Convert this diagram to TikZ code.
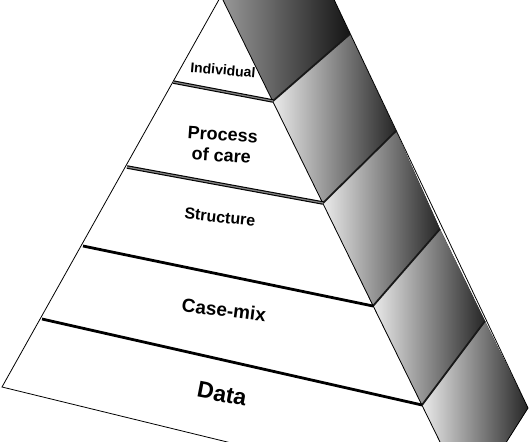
\documentclass[tikz,border=0pt]{standalone}
\usepackage{fontspec}
\setmainfont{Liberation Sans}
\usetikzlibrary{calc}
\tikzset{
  edge/.style={draw=black, line width=0.8pt},
  band/.style={draw=black, line width=2.8pt},
  bandtop/.style={draw=black, line width=1.1pt, double=black!50, double distance=1.3pt},
  sidecut/.style={draw=black!90, line width=1.8pt},
  side/.style={left color=black!8, right color=black!85},
  sidetop/.style={left color=black!40, right color=black!92},
  level/.style={text=black, align=center, inner sep=0pt}
}

\begin{document}
\begin{tikzpicture}[x=1pt,y=-1pt]
  \useasboundingbox (0,0) rectangle (531,442);
  \clip (0,0) rectangle (531,442);

  % front face corners
  \coordinate (apex) at (221,-4);
  \coordinate (l1) at (173,82);
  \coordinate (l2) at (127,167);
  \coordinate (l3) at (83,246);
  \coordinate (l4) at (42,319);
  \coordinate (l5) at (2,387);
  \coordinate (r1) at (273,101);
  \coordinate (r2) at (323,203);
  \coordinate (r3) at (373,306);
  \coordinate (r4) at (422,405);
  \coordinate (r5) at (469,501);
  % back edge of the side face
  \coordinate (k0) at (301,-70);
  \coordinate (k1) at (350,34);
  \coordinate (k2) at (396,131);
  \coordinate (k3) at (440,229);
  \coordinate (k4) at (485,321);
  \coordinate (k5) at (528,408);

  % side face
  \fill[sidetop] (apex) -- (k0) -- (k1) -- (r1) -- cycle;
  \foreach \a/\b in {1/2,2/3,3/4,4/5}
    \fill[side] (r\a) -- (k\a) -- (k\b) -- (r\b) -- cycle;
  \foreach \a in {1,...,4}
    \draw[sidecut] (r\a) -- (k\a);

  % outline
  \draw[edge] (apex) -- (l5) -- (r5) -- (k5) -- (k0);
  \draw[edge] (apex) -- (r5);

  % levels
  \draw[bandtop] (l1) -- (r1);
  \draw[bandtop] (l2) -- (r2);
  \draw[band] (l3) -- (r3);
  \draw[band] (l4) -- (r4);

  \node[level, font=\bfseries\fontsize{14}{16}\selectfont, rotate=-5] (individual) at (223,70) {Individual};
  \node[level, font=\bfseries\fontsize{18}{21}\selectfont, rotate=-4] (process) at (222,145) {Process\\of care};
  \node[level, font=\bfseries\fontsize{16}{18}\selectfont, rotate=-6] (structure) at (220,217) {Structure};
  \node[level, font=\bfseries\fontsize{19}{21}\selectfont, rotate=-7] (casemix) at (224,310) {Case-mix};
  \node[level, font=\bfseries\fontsize{23}{25}\selectfont, rotate=-11] (data) at (222,394) {Data};
\end{tikzpicture}
\end{document}
